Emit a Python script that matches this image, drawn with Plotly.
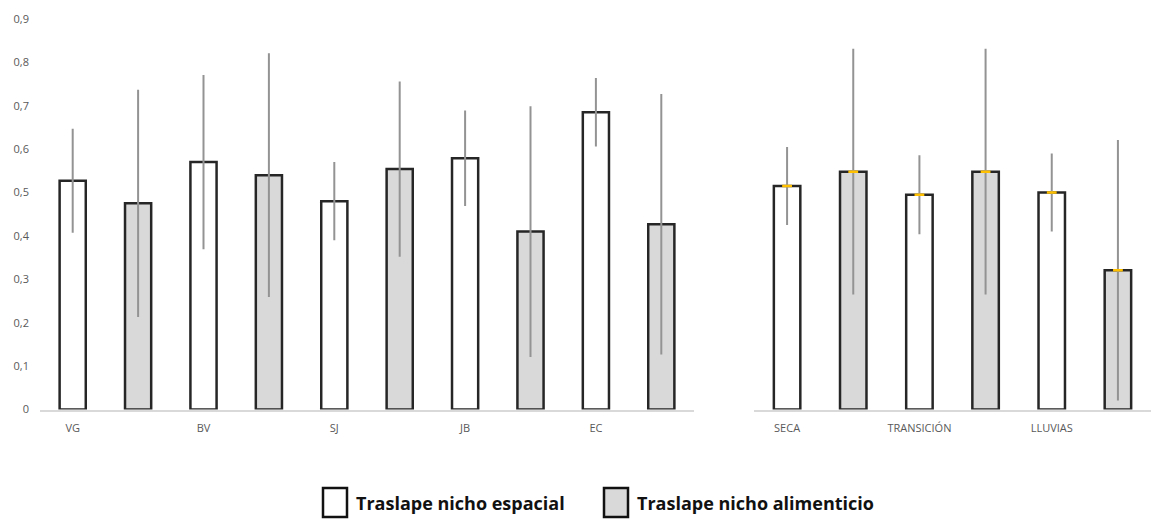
import plotly.graph_objects as go

# Overlap indices by site
sites = ["VG", "BV", "SJ", "JB", "EC"]
espacial_site = [0.527, 0.570, 0.480, 0.579, 0.685]
espacial_site_sd = [0.120, 0.201, 0.090, 0.110, 0.079]
alimenticio_site = [0.475, 0.540, 0.554, 0.410, 0.427]
alimenticio_site_sd = [0.262, 0.281, 0.202, 0.289, 0.300]

# Overlap indices by season
seasons = ["SECA", "TRANSICIÓN", "LLUVIAS"]
espacial_season = [0.515, 0.495, 0.500]
espacial_season_sd = [0.090, 0.091, 0.090]
alimenticio_season = [0.548, 0.548, 0.321]
alimenticio_season_sd = [0.283, 0.283, 0.300]

y_ticks = [0, 0.1, 0.2, 0.3, 0.4, 0.5, 0.6, 0.7, 0.8, 0.9]
y_tick_labels = ["0", "0,1", "0,2", "0,3", "0,4", "0,5", "0,6", "0,7", "0,8", "0,9"]

legend_names = ["Traslape nicho espacial", "Traslape nicho alimenticio"]

W, H = 1154, 519
FILL_WHITE = "#ffffff"
FILL_GRAY = "#d9d9d9"
OUTLINE = "#262626"
ERR_COLOR = "#939393"
TICK_COLOR = "#595959"
FONT = "Open Sans"


def bar(x, y, sd, fill, xa, ya):
    return go.Bar(
        x=x, y=y, width=0.4, xaxis=xa, yaxis=ya,
        marker=dict(color=fill, line=dict(color=OUTLINE, width=2.5)),
        error_y=dict(type="data", array=sd, visible=True, color=ERR_COLOR,
                     thickness=2, width=0),
        showlegend=False, hoverinfo="skip",
    )


fig = go.Figure()

x_es = [2 * i for i in range(len(sites))]
x_al = [2 * i + 1 for i in range(len(sites))]
fig.add_trace(bar(x_es, espacial_site, espacial_site_sd, FILL_WHITE, "x", "y"))
fig.add_trace(bar(x_al, alimenticio_site, alimenticio_site_sd, FILL_GRAY, "x", "y"))

x2_es = [2 * i for i in range(len(seasons))]
x2_al = [2 * i + 1 for i in range(len(seasons))]
fig.add_trace(bar(x2_es, espacial_season, espacial_season_sd, FILL_WHITE, "x2", "y2"))
fig.add_trace(bar(x2_al, alimenticio_season, alimenticio_season_sd, FILL_GRAY, "x2", "y2"))

# small yellow ticks marking the mean on the seasonal bars
fig.add_trace(go.Scatter(
    x=x2_es + x2_al, y=espacial_season + alimenticio_season,
    xaxis="x2", yaxis="y2", mode="markers",
    marker=dict(symbol="line-ew", size=7, line=dict(color="#ffc000", width=2.5)),
    showlegend=False, hoverinfo="skip",
))

y0 = (H - 409.5) / H
y1 = (H - 18.9) / H

x_axis_style = dict(
    showgrid=False, zeroline=False, showline=True, linecolor="#d9d9d9",
    linewidth=1.5, ticks="", tickfont=dict(family=FONT, size=11, color=TICK_COLOR),
    ticklabelstandoff=8, automargin=False,
)

fig.update_layout(
    width=W, height=H,
    margin=dict(l=0, r=0, t=0, b=0),
    paper_bgcolor="white", plot_bgcolor="white",
    barmode="overlay",
    xaxis=dict(domain=[40 / W, 694 / W], range=[-0.5, 9.5],
               tickvals=x_es, ticktext=sites, anchor="y", **x_axis_style),
    xaxis2=dict(domain=[754 / W, 1151 / W], range=[-0.5, 5.5],
                tickvals=x2_es, ticktext=seasons, anchor="y2", **x_axis_style),
    yaxis=dict(domain=[y0, y1], range=[0, 0.9], tickvals=y_ticks, ticktext=y_tick_labels,
               showgrid=False, zeroline=False, showline=False, ticks="",
               tickfont=dict(family=FONT, size=11, color=TICK_COLOR),
               ticklabelstandoff=10, automargin=False, anchor="x"),
    yaxis2=dict(domain=[y0, y1], range=[0, 0.9], showticklabels=False,
                showgrid=False, zeroline=False, showline=False, ticks="",
                anchor="x2"),
    font=dict(family=FONT),
)

# legend drawn as boxes with labels along the bottom
legend_items = [
    (323, FILL_WHITE, legend_names[0]),
    (604, FILL_GRAY, legend_names[1]),
]
for px, fill, label in legend_items:
    fig.add_shape(type="rect", xref="paper", yref="paper",
                  x0=px / W, x1=(px + 24) / W,
                  y0=(H - 517) / H, y1=(H - 488) / H,
                  fillcolor=fill, line=dict(color="#111111", width=2.5))
    fig.add_annotation(xref="paper", yref="paper", x=(px + 31) / W, y=(H - 503) / H,
                       text=f"<b>{label}</b>", showarrow=False, xanchor="left",
                       yanchor="middle", font=dict(family=FONT, size=18, color="#111111"))

fig.write_html("out.html")
